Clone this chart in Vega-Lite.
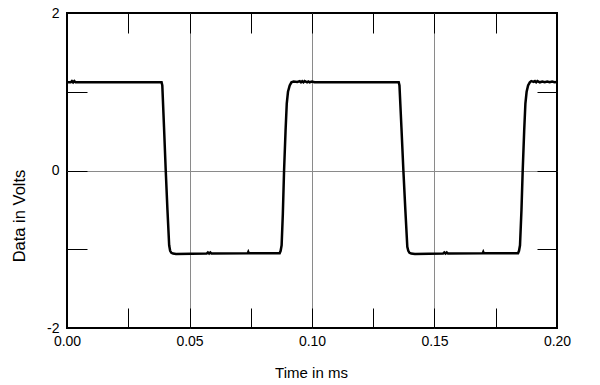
{
  "$schema": "https://vega.github.io/schema/vega-lite/v6.json",
  "width": 490,
  "height": 315,
  "autosize": {"type": "none"},
  "padding": {"left": 67, "top": 13, "right": 43, "bottom": 57},
  "background": "white",
  "config": {
    "view": {"stroke": "black", "strokeWidth": 2},
    "font": "Liberation Sans",
    "axis": {
      "labelFont": "Liberation Sans",
      "titleFont": "Liberation Sans",
      "labelFontSize": 14,
      "titleFontSize": 15,
      "titleFontWeight": "normal",
      "labelColor": "black",
      "titleColor": "black",
      "tickColor": "black",
      "tickWidth": 1,
      "domain": false
    }
  },
  "data": {
    "values": [
      {"t": 0, "v": 1.12}, {"t": 0.0015, "v": 1.12}, {"t": 0.002, "v": 1.135}, {"t": 0.0025, "v": 1.118}, {"t": 0.003, "v": 1.135}, {"t": 0.0035, "v": 1.12},
      {"t": 0.0386, "v": 1.12}, {"t": 0.0389, "v": 1.08}, {"t": 0.0396, "v": 0.55}, {"t": 0.0403, "v": 0}, {"t": 0.041, "v": -0.5}, {"t": 0.0417, "v": -0.95}, {"t": 0.0421, "v": -1.02}, {"t": 0.0426, "v": -1.045}, {"t": 0.0433, "v": -1.055}, {"t": 0.0445, "v": -1.06},
      {"t": 0.057, "v": -1.055}, {"t": 0.0575, "v": -1.04}, {"t": 0.058, "v": -1.055}, {"t": 0.0585, "v": -1.04}, {"t": 0.059, "v": -1.055}, {"t": 0.0738, "v": -1.05}, {"t": 0.074, "v": -1.035}, {"t": 0.0742, "v": -1.05},
      {"t": 0.0868, "v": -1.05}, {"t": 0.0872, "v": -1.02}, {"t": 0.0876, "v": -0.95}, {"t": 0.0881, "v": -0.55}, {"t": 0.0886, "v": 0}, {"t": 0.0892, "v": 0.5}, {"t": 0.0897, "v": 0.85}, {"t": 0.0902, "v": 1.0}, {"t": 0.0909, "v": 1.08}, {"t": 0.0916, "v": 1.12}, {"t": 0.0925, "v": 1.13}, {"t": 0.094, "v": 1.125},
      {"t": 0.095, "v": 1.135}, {"t": 0.0955, "v": 1.12}, {"t": 0.096, "v": 1.135}, {"t": 0.0965, "v": 1.12}, {"t": 0.097, "v": 1.135}, {"t": 0.098, "v": 1.12}, {"t": 0.0985, "v": 1.13}, {"t": 0.099, "v": 1.12}, {"t": 0.1, "v": 1.13}, {"t": 0.101, "v": 1.12},
      {"t": 0.1354, "v": 1.12}, {"t": 0.1357, "v": 1.08}, {"t": 0.1365, "v": 0.55}, {"t": 0.1373, "v": 0}, {"t": 0.1381, "v": -0.5}, {"t": 0.1389, "v": -0.97}, {"t": 0.1393, "v": -1.02}, {"t": 0.1398, "v": -1.045}, {"t": 0.1405, "v": -1.055}, {"t": 0.142, "v": -1.06},
      {"t": 0.1535, "v": -1.055}, {"t": 0.154, "v": -1.04}, {"t": 0.1545, "v": -1.055}, {"t": 0.155, "v": -1.04}, {"t": 0.1555, "v": -1.055}, {"t": 0.1697, "v": -1.05}, {"t": 0.1699, "v": -1.035}, {"t": 0.1701, "v": -1.05},
      {"t": 0.1841, "v": -1.05}, {"t": 0.1845, "v": -1.02}, {"t": 0.1849, "v": -0.95}, {"t": 0.1855, "v": -0.5}, {"t": 0.186, "v": 0}, {"t": 0.1866, "v": 0.5}, {"t": 0.1871, "v": 0.85}, {"t": 0.1876, "v": 1.0}, {"t": 0.1882, "v": 1.08}, {"t": 0.1889, "v": 1.12}, {"t": 0.1895, "v": 1.135},
      {"t": 0.1905, "v": 1.125}, {"t": 0.191, "v": 1.135}, {"t": 0.1915, "v": 1.12}, {"t": 0.192, "v": 1.135}, {"t": 0.193, "v": 1.12}, {"t": 0.194, "v": 1.13}, {"t": 0.195, "v": 1.12}, {"t": 0.196, "v": 1.13}, {"t": 0.197, "v": 1.12}, {"t": 0.198, "v": 1.13}, {"t": 0.199, "v": 1.12}, {"t": 0.2, "v": 1.125}
    ]
  },
  "layer": [
    {
      "mark": {"type": "line", "opacity": 0},
      "encoding": {
        "x": {
          "field": "t", "type": "quantitative",
          "scale": {"domain": [0, 0.2], "nice": false, "zero": false},
          "axis": {"orient": "top", "title": null, "labels": false, "grid": false, "values": [0, 0.025, 0.05, 0.075, 0.1, 0.125, 0.15, 0.175, 0.2], "tickSize": -20}
        },
        "y": {
          "field": "v", "type": "quantitative",
          "scale": {"domain": [-2, 2], "nice": false},
          "axis": {"orient": "right", "title": null, "labels": false, "grid": false, "values": [-2, -1, 0, 1, 2], "tickSize": -20}
        }
      }
    },
    {
      "mark": {"type": "line", "color": "black", "strokeWidth": 2.5},
      "encoding": {
        "x": {
          "field": "t", "type": "quantitative",
          "axis": {
            "orient": "bottom",
            "title": "Time in ms",
            "values": [0, 0.025, 0.05, 0.075, 0.1, 0.125, 0.15, 0.175, 0.2],
            "tickSize": -20,
            "labelPadding": 26,
            "labelFlush": false,
            "labelExpr": "abs(round(datum.value*40)) % 2 == 0 ? format(datum.value, '.2f') : ''",
            "grid": true,
            "gridColor": {"condition": {"test": "abs(round(datum.value*40)) % 2 == 0 && datum.value > 0.001 && datum.value < 0.199", "value": "#8a8a8a"}, "value": "transparent"},
            "gridWidth": 1,
            "titleX": 244,
            "titleY": 44,
            "titleBaseline": "middle",
            "titleAlign": "center"
          }
        },
        "y": {
          "field": "v", "type": "quantitative",
          "axis": {
            "orient": "left",
            "title": "Data in Volts",
            "titleFontSize": 16.5,
            "values": [-2, -1, 0, 1, 2],
            "tickSize": -20,
            "labelPadding": 28,
            "labelFlush": false,
            "labelExpr": "datum.value % 2 == 0 ? '' + datum.value : ''",
            "grid": true,
            "gridColor": {"condition": {"test": "datum.value == 0", "value": "#8a8a8a"}, "value": "transparent"},
            "gridWidth": 1,
            "titleX": -48,
            "titleY": 202.5,
            "titleBaseline": "middle",
            "titleAlign": "center",
            "titleAngle": -90
          }
        }
      }
    }
  ],
  "resolve": {"axis": {"x": "independent", "y": "independent"}}
}
